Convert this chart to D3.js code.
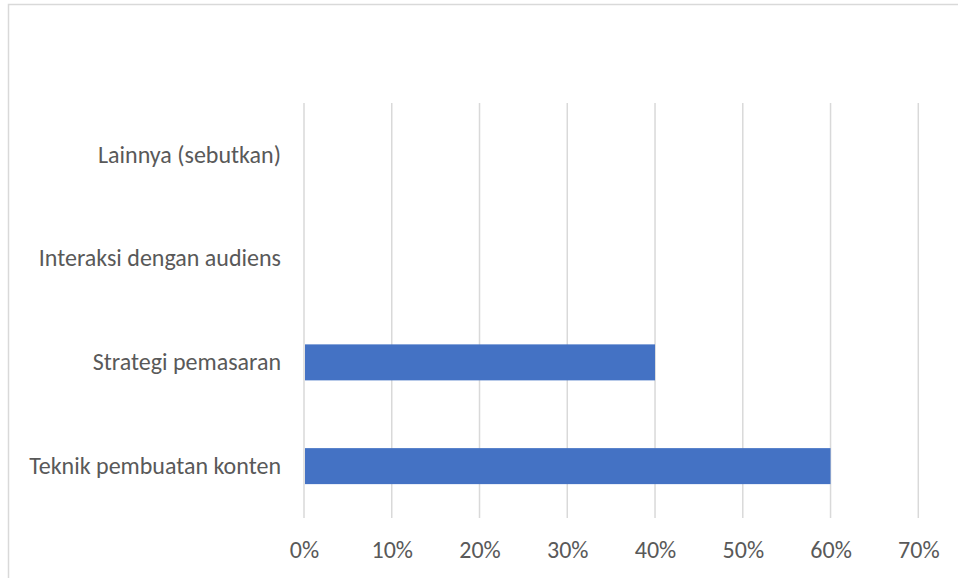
<!DOCTYPE html>
<html>
<head>
<meta charset="utf-8">
<script src="https://cdn.jsdelivr.net/npm/d3@7"></script>
<style>
  html, body { margin: 0; padding: 0; background: #ffffff; }
  svg { display: block; }
  text { font-family: Carlito, Calibri, Lato, "Open Sans", sans-serif; fill: #595959; }
</style>
</head>
<body>
<svg id="chart" width="958" height="578"></svg>
<script>
// Categories listed bottom-to-top as they appear on the chart
const categories = ["Teknik pembuatan konten", "Strategi pemasaran", "Interaksi dengan audiens", "Lainnya (sebutkan)"];
const values = [0.60, 0.40, 0, 0];
const tickValues = [0, 0.1, 0.2, 0.3, 0.4, 0.5, 0.6, 0.7];

const svg = d3.select("#chart");
const W = 958, H = 578;
const FONT = "Carlito, Calibri, Lato, 'Open Sans', sans-serif";

// Chart frame
svg.append("rect")
  .attr("x", 8.5).attr("y", 4.5)
  .attr("width", W + 10).attr("height", H + 10)
  .attr("fill", "#ffffff")
  .attr("stroke", "#d9d9d9").attr("stroke-width", 1.5);

const plot = { left: 304, right: 918.3, top: 103, bottom: 518 };

const x = d3.scaleLinear().domain([0, 0.7]).range([plot.left, plot.right]);
const y = d3.scaleBand()
  .domain(categories.slice().reverse())
  .range([plot.top, plot.bottom])
  .paddingInner(0.653)
  .paddingOuter(0.3265);

// Vertical gridlines
svg.append("g")
  .selectAll("line")
  .data(tickValues)
  .join("line")
  .attr("x1", d => x(d)).attr("x2", d => x(d))
  .attr("y1", plot.top).attr("y2", plot.bottom)
  .attr("stroke", "#d9d9d9").attr("stroke-width", 1.5);

// Bars
svg.append("g")
  .selectAll("rect")
  .data(categories.map((c, i) => ({ c, v: values[i] })).filter(d => d.v > 0))
  .join("rect")
  .attr("x", x(0) + 1)
  .attr("y", d => y(d.c))
  .attr("width", d => x(d.v) - x(0) - 1)
  .attr("height", y.bandwidth())
  .attr("fill", "#4472c4");

// X axis labels
const xAxis = d3.axisBottom(x)
  .tickValues(tickValues)
  .tickFormat(d3.format(".0%"))
  .tickSize(0)
  .tickPadding(0);
const gx = svg.append("g")
  .attr("transform", `translate(0, 550)`)
  .call(xAxis);
gx.select(".domain").remove();
gx.selectAll("text")
  .attr("dy", "0.35em")
  .attr("y", 0)
  .attr("font-size", 24)
  .style("font-family", FONT)
  .attr("fill", "#595959");

// Y axis labels
const yAxis = d3.axisLeft(y).tickSize(0).tickPadding(0);
const gy = svg.append("g")
  .attr("transform", `translate(281, 0)`)
  .call(yAxis);
gy.select(".domain").remove();
gy.selectAll("text")
  .attr("font-size", 24)
  .style("font-family", FONT)
  .attr("fill", "#595959");
</script>
</body>
</html>
